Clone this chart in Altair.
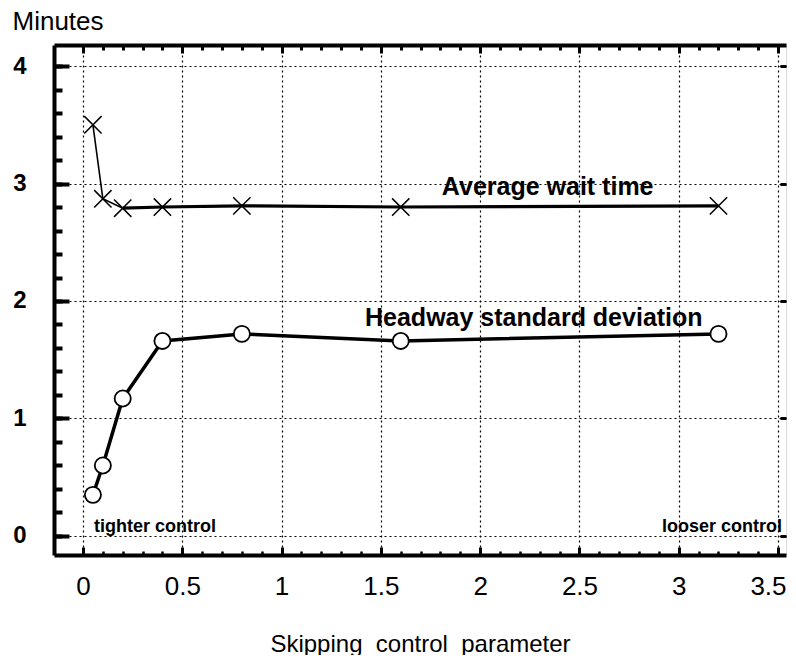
import altair as alt
import pandas as pd

# ---- data ----
x_param = [0.05, 0.1, 0.2, 0.4, 0.8, 1.6, 3.2]
wait_time = [3.50, 2.87, 2.79, 2.80, 2.81, 2.80, 2.81]
headway_sd = [0.35, 0.60, 1.17, 1.66, 1.72, 1.66, 1.72]

label_text = ["Average wait time", "Headway standard deviation"]
label_x = [2.34, 2.27]
label_y = [2.90, 1.79]

note_text = ["tighter control", "looser control"]
note_x = [0.363, 3.218]
note_y = [0.03, 0.03]

x_major = [0, 0.5, 1, 1.5, 2, 2.5, 3, 3.5]
x_minor = [0, 0.1, 0.2, 0.3, 0.4, 0.5, 0.6, 0.7, 0.8, 0.9, 1.0, 1.1, 1.2, 1.3,
           1.4, 1.5, 1.6, 1.7, 1.8, 1.9, 2.0, 2.1, 2.2, 2.3, 2.4, 2.5, 2.6, 2.7,
           2.8, 2.9, 3.0, 3.1, 3.2, 3.3, 3.4, 3.5]
y_major = [0, 1, 2, 3, 4]
y_minor = [0, 0.2, 0.4, 0.6, 0.8, 1.0, 1.2, 1.4, 1.6, 1.8, 2.0, 2.2, 2.4, 2.6,
           2.8, 3.0, 3.2, 3.4, 3.6, 3.8, 4.0]

df = pd.DataFrame({"x": x_param, "wait": wait_time, "sd": headway_sd})
df_labels = pd.DataFrame({"x": label_x, "y": label_y, "text": label_text})
df_notes = pd.DataFrame({"x": note_x, "y": note_y, "text": note_text})

NARROW = "Liberation Sans, Arial, sans-serif"
BOLD = "Liberation Sans, Arial, sans-serif"

xs = alt.Scale(domain=[-0.146, 3.540], nice=False, zero=False)
ys = alt.Scale(domain=[-0.162, 4.179], nice=False, zero=False)

grid_kw = dict(grid=True, gridColor="black", gridDash=[2, 3], gridWidth=1.2, gridOpacity=1)
tick_kw = dict(domain=False, ticks=True, tickColor="black", tickOpacity=1)
frame_kw = dict(domain=True, domainColor="black", domainWidth=4, domainOpacity=1,
                ticks=False, labels=False, grid=False, title=None, offset=0)

ax_bottom_major = alt.Axis(
    orient="bottom", values=x_major, format="~g", offset=-8, tickSize=8, tickWidth=3,
    labelFont=NARROW, labelFontSize=26, labelFontWeight="normal", labelColor="black",
    labelPadding=18, labelFlush=10, labelFlushOffset=8, labelOverlap=False,
    title="Skipping\u00a0 control\u00a0 parameter", titleFont=NARROW, titleFontSize=24,
    titleFontWeight="normal", titleColor="black", titlePadding=33,
    **grid_kw, **tick_kw)
ax_left_major = alt.Axis(
    orient="left", values=y_major, format="d", offset=-15, tickSize=15, tickWidth=4,
    labelFont=BOLD, labelFontSize=24, labelFontWeight="bold", labelColor="black",
    labelPadding=28, labelOverlap=False, labelFlush=False,
    title="Minutes", titleAngle=0, titleAlign="left", titleBaseline="alphabetic",
    titleX=-57, titleY=-16, titleFont=NARROW, titleFontSize=26,
    titleFontWeight="normal", titleColor="black",
    **grid_kw, **tick_kw)
ax_bottom_minor = alt.Axis(orient="bottom", values=x_minor, offset=-4, tickSize=4,
                           tickWidth=2.5, labels=False, grid=False, title=None, **tick_kw)
ax_left_minor = alt.Axis(orient="left", values=y_minor, offset=-8, tickSize=8,
                         tickWidth=4, labels=False, grid=False, title=None, **tick_kw)
ax_top_major = alt.Axis(orient="top", values=x_major, offset=-8, tickSize=8,
                        tickWidth=3, labels=False, grid=False, title=None, **tick_kw)
ax_top_minor = alt.Axis(orient="top", values=x_minor, offset=-5, tickSize=5,
                        tickWidth=3, labels=False, grid=False, title=None, **tick_kw)
ax_right_major = alt.Axis(orient="right", values=y_major, offset=-6, tickSize=6,
                          tickWidth=3, labels=False, grid=False, title=None, **tick_kw)
ax_frame_bottom = alt.Axis(orient="bottom", **frame_kw)
ax_frame_left = alt.Axis(orient="left", **frame_kw)
ax_frame_top = alt.Axis(orient="top", **frame_kw)

base = alt.Chart(df)

wait_thin = base.mark_line(color="black", strokeWidth=1.6).encode(
    x=alt.X("x:Q", scale=xs, axis=ax_bottom_major),
    y=alt.Y("wait:Q", scale=ys, axis=ax_left_major),
)
wait_thick = base.transform_filter("datum.x >= 0.2").mark_line(
    color="black", strokeWidth=3.2).encode(
    x=alt.X("x:Q", scale=xs, axis=ax_bottom_minor),
    y=alt.Y("wait:Q", scale=ys, axis=ax_left_minor),
)
wait_pts = base.mark_point(
    shape="M-1,-1L1,1M-1,1L1,-1", size=300, strokeWidth=1.5, color="black",
    filled=False, opacity=1).encode(
    x=alt.X("x:Q", scale=xs, axis=ax_top_major),
    y=alt.Y("wait:Q", scale=ys, axis=ax_right_major),
)
sd_line = base.mark_line(color="black", strokeWidth=3.5).encode(
    x=alt.X("x:Q", scale=xs, axis=ax_top_minor),
    y=alt.Y("sd:Q", scale=ys, axis=None),
)
sd_pts = base.mark_point(
    shape="circle", size=260, filled=True, fill="white", stroke="black",
    strokeWidth=1.8, opacity=1).encode(
    x=alt.X("x:Q", scale=xs, axis=None),
    y=alt.Y("sd:Q", scale=ys, axis=None),
)
labels = alt.Chart(df_labels).mark_text(
    font=BOLD, fontSize=25, fontWeight="bold", color="black",
    align="center", baseline="alphabetic").encode(
    x=alt.X("x:Q", scale=xs, axis=ax_frame_bottom),
    y=alt.Y("y:Q", scale=ys, axis=ax_frame_left),
    text="text:N",
)
notes = alt.Chart(df_notes).mark_text(
    font=BOLD, fontSize=18, fontWeight="bold", color="black",
    align="center", baseline="alphabetic").encode(
    x=alt.X("x:Q", scale=xs, axis=ax_frame_top),
    y=alt.Y("y:Q", scale=ys, axis=None),
    text="text:N",
)

chart = alt.layer(
    wait_thin, wait_thick, wait_pts, sd_line, sd_pts, labels, notes
).resolve_axis(
    x="independent", y="independent"
).properties(
    width=732, height=510,
    autosize=alt.AutoSizeParams(type="none"),
    padding={"left": 46, "top": 37, "right": 2, "bottom": 100},
).configure_view(
    strokeWidth=0
).configure(background="white")

chart.save("out.html", embed_options={"renderer": "svg", "actions": False})
